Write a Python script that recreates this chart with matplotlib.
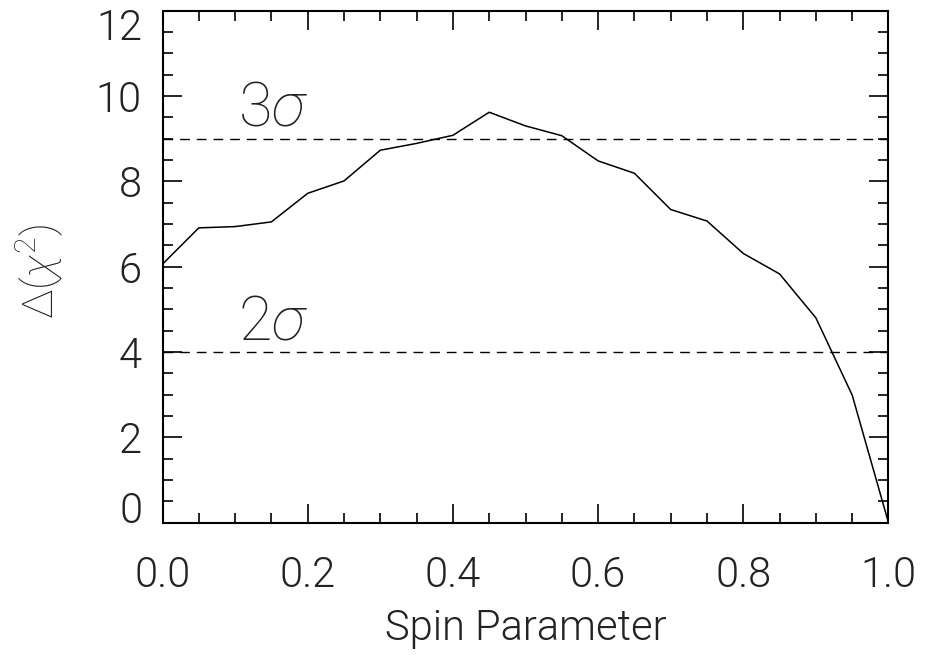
import matplotlib
matplotlib.use("Agg")
import matplotlib.pyplot as plt
from matplotlib.ticker import MultipleLocator, FuncFormatter
from matplotlib.transforms import offset_copy

# data
spin = [0.0, 0.05, 0.10, 0.15, 0.20, 0.25, 0.30, 0.35, 0.40, 0.45, 0.50,
        0.55, 0.60, 0.65, 0.70, 0.75, 0.80, 0.85, 0.90, 0.95, 1.0]
delta_chi2 = [6.06, 6.91, 6.94, 7.05, 7.72, 8.01, 8.73, 8.89, 9.08, 9.62, 9.30,
              9.07, 8.48, 8.19, 7.34, 7.07, 6.31, 5.83, 4.80, 2.99, 0.0]
sigma_levels = [4.0, 9.0]
sigma_labels = [r"$2\sigma$", r"$3\sigma$"]
sigma_label_pos = [(0.104, 4.3), (0.104, 9.3)]
ymin, ymax = 0, 12

plt.rcParams["font.family"] = ["Roboto", "DejaVu Sans"]
plt.rcParams["font.weight"] = 300
plt.rcParams["axes.labelweight"] = 300
plt.rcParams["mathtext.fontset"] = "custom"
plt.rcParams["mathtext.rm"] = "Roboto:light"
plt.rcParams["mathtext.it"] = "Roboto:italic:light"
txt_color = "#222222"
fs = 30

fig = plt.figure(figsize=(9.26, 6.56), dpi=100)
ax = fig.add_axes([0.1755, 0.2032, 0.784, 0.7805])

ax.plot(spin, delta_chi2, color="black", lw=1.1)
for lvl in sigma_levels:
    ax.axhline(lvl, color="black", lw=1.0, ls=(0, (7, 5)))
for lab, (tx, ty) in zip(sigma_labels, sigma_label_pos):
    ax.text(tx, ty, lab, fontsize=44, ha="left", va="baseline", color=txt_color)

ax.set_xlim(0, 1)
ax.set_ylim(ymin, ymax)
ax.xaxis.set_major_locator(MultipleLocator(0.2))
ax.xaxis.set_minor_locator(MultipleLocator(0.05))
ax.yaxis.set_major_locator(MultipleLocator(2))
ax.yaxis.set_minor_locator(MultipleLocator(0.5))
ax.xaxis.set_major_formatter(plt.FormatStrFormatter("%.1f"))
# the end labels of the y axis are drawn separately, kept inside the frame
ax.yaxis.set_major_formatter(
    FuncFormatter(lambda v, p: "" if v in (ymin, ymax) else f"{v:g}"))
ax.tick_params(which="both", direction="in", top=True, right=True,
               width=1.2, labelsize=fs, labelcolor=txt_color)
ax.tick_params(which="major", length=14)
ax.tick_params(which="minor", length=7)
ax.tick_params(axis="x", which="major", pad=23)
ax.tick_params(axis="y", which="major", pad=15)
for s in ax.spines.values():
    s.set_linewidth(1.5)

ytrans = ax.get_yaxis_transform()
cap = fs * 0.711  # cap height of the digits, in points
ax.text(-0.028, ymin, f"{ymin:g}", transform=ytrans, ha="right",
        va="baseline", fontsize=fs, color=txt_color)
ax.text(-0.028, ymax, f"{ymax:g}",
        transform=offset_copy(ytrans, fig=fig, y=-cap, units="points"),
        ha="right", va="baseline", fontsize=fs, color=txt_color)

ax.set_xlabel("Spin Parameter", fontsize=fs, labelpad=9, color=txt_color)
ax.set_ylabel(r"$\Delta(\chi^2)$", fontsize=31, color=txt_color)
ax.yaxis.set_label_coords(-0.135, 0.49)

fig.savefig("out.png", dpi=100)
